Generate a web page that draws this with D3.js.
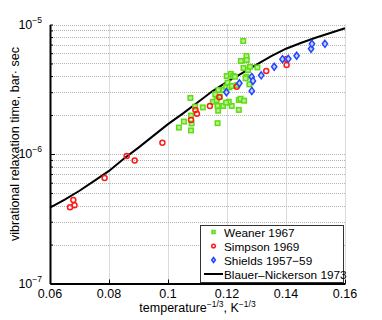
<!DOCTYPE html>
<html>
<head>
<meta charset="utf-8">
<script src="https://cdn.jsdelivr.net/npm/d3@7"></script>
<style>
  body { margin: 0; background: #fff; }
  text { font-family: "Liberation Sans", Arial, sans-serif; }
</style>
</head>
<body>
<script>
// Weaner 1967 (green squares)
var weanerX = [0.1037, 0.1054, 0.1076, 0.1078, 0.1080, 0.1078, 0.1092, 0.1118, 0.1152, 0.1168,
  0.1168, 0.1170, 0.1160, 0.1187, 0.1187, 0.1197, 0.1199, 0.1202, 0.1208, 0.1213,
  0.1221, 0.1216, 0.1206, 0.1216, 0.1240, 0.1246, 0.1240, 0.1258, 0.1247, 0.1255,
  0.1256, 0.1266, 0.1266, 0.1267, 0.1271, 0.1278, 0.1276, 0.1303, 0.1263, 0.1235,
  0.1197, 0.1176, 0.1165, 0.1227, 0.1171];
var weanerY = [1.60e-6, 1.78e-6, 2.71e-6, 1.98e-6, 1.72e-6, 1.52e-6, 2.32e-6, 2.29e-6, 2.53e-6, 1.73e-6,
  2.35e-6, 2.16e-6, 2.89e-6, 2.35e-6, 3.12e-6, 3.31e-6, 4.00e-6, 3.55e-6, 3.27e-6, 4.15e-6,
  4.00e-6, 2.35e-6, 2.53e-6, 3.35e-6, 2.61e-6, 2.67e-6, 2.19e-6, 2.58e-6, 5.23e-6, 7.46e-6,
  4.61e-6, 3.95e-6, 5.71e-6, 5.32e-6, 4.45e-6, 4.72e-6, 3.45e-6, 4.66e-6, 3.84e-6, 3.41e-6,
  2.49e-6, 2.77e-6, 2.61e-6, 3.95e-6, 3.12e-6];

// Simpson 1969 (red circles)
var simpsonX = [0.0668, 0.0679, 0.0683, 0.0785, 0.0860, 0.0887, 0.0981, 0.1078, 0.1093, 0.1098,
  0.1142, 0.1174, 0.1233, 0.1333, 0.1402, 0.1402];
var simpsonY = [3.88e-7, 4.41e-7, 4.02e-7, 6.53e-7, 9.65e-7, 8.91e-7, 1.22e-6, 1.83e-6, 2.19e-6, 2.05e-6,
  2.35e-6, 2.74e-6, 3.31e-6, 4.38e-6, 5.42e-6, 4.87e-6];

// Shields 1957-59 (blue diamonds)
var shieldsX = [0.1198, 0.1242, 0.1284, 0.1288, 0.1284, 0.1316, 0.1360, 0.1388, 0.1408, 0.1436,
  0.1485, 0.1488, 0.1532];
var shieldsY = [3.00e-6, 3.52e-6, 3.94e-6, 3.67e-6, 3.07e-6, 4.05e-6, 4.72e-6, 5.40e-6, 5.43e-6, 5.74e-6,
  6.50e-6, 7.09e-6, 7.09e-6];

// Blauer-Nickerson 1973 (black line)
var bnX = [0.060, 0.065, 0.070, 0.075, 0.080, 0.085, 0.090, 0.095, 0.100, 0.105, 0.110,
  0.115, 0.120, 0.125, 0.130, 0.135, 0.140, 0.145, 0.150, 0.155, 0.160];
var bnY = [3.85e-7, 4.45e-7, 5.20e-7, 6.20e-7, 7.40e-7, 9.20e-7, 1.12e-6, 1.38e-6, 1.70e-6, 2.05e-6, 2.50e-6,
  3.05e-6, 3.60e-6, 4.20e-6, 4.90e-6, 5.70e-6, 6.50e-6, 7.20e-6, 7.90e-6, 8.60e-6, 9.35e-6];

var xTicks = [0.06, 0.08, 0.1, 0.12, 0.14, 0.16];
var xTickLabels = ["0.06", "0.08", "0.1", "0.12", "0.14", "0.16"];
var yTicks = [1e-7, 1e-6, 1e-5];
var yTickExp = ["\u22127", "\u22126", "\u22125"];

var legendNames = ["Weaner 1967", "Simpson 1969", "Shields 1957\u221259", "Blauer\u2013Nickerson 1973"];

var W = 382, H = 320;
var pl = 50, pr = 345, pt = 24.5, pb = 283.5;

var svg = d3.select("body").append("svg")
  .attr("width", W).attr("height", H);

var x = d3.scaleLinear().domain([0.06, 0.16]).range([pl, pr]);
var y = d3.scaleLog().domain([1e-7, 1e-5]).range([pb, pt]);

// grid
var grid = svg.append("g").attr("class", "grid")
  .style("stroke", "#b4b4b4").style("stroke-width", 1).style("stroke-dasharray", "1,1");

xTicks.slice(1).forEach(function(t) {
  grid.append("line").attr("x1", Math.round(x(t)) + 0.5).attr("x2", Math.round(x(t)) + 0.5)
    .attr("y1", pt).attr("y2", pb);
});
var yMinor = [];
[1e-7, 1e-6].forEach(function(d) {
  for (var k = 2; k <= 10; k++) yMinor.push(d * k);
});
yMinor.forEach(function(t) {
  grid.append("line").attr("x1", pl).attr("x2", pr)
    .attr("y1", Math.round(y(t)) + 0.5).attr("y2", Math.round(y(t)) + 0.5);
});

// axes
var xAxis = d3.axisBottom(x).tickValues(xTicks).tickFormat("").tickSizeInner(-4).tickSizeOuter(0);
var gx = svg.append("g").attr("transform", "translate(0," + pb + ")").call(xAxis);
gx.select(".domain").attr("stroke-width", 2);

var yAxis = d3.axisLeft(y).tickValues(yMinor.concat([1e-7])).tickFormat("").tickSizeInner(-3).tickSizeOuter(0);
var gy = svg.append("g").attr("transform", "translate(" + pl + ",0)").call(yAxis);
gy.select(".domain").attr("stroke-width", 2);
gy.selectAll(".tick line").filter(function(d) { return yTicks.indexOf(d) >= 0; }).attr("x2", 5);

// tick labels
svg.append("g").selectAll("text").data(xTicks).enter().append("text")
  .attr("x", function(d) { return x(d); })
  .attr("y", pb + 14)
  .attr("text-anchor", "middle")
  .style("font-size", "12.5px")
  .text(function(d, i) { return xTickLabels[i]; });

var yl = svg.append("g").selectAll("text").data(yTicks).enter().append("text")
  .attr("x", pl - 8)
  .attr("y", function(d) { return y(d) + 4; })
  .attr("text-anchor", "end")
  .style("font-size", "12.5px");
yl.append("tspan").text("10");
yl.append("tspan").attr("dy", -6).style("font-size", "8.5px").text(function(d, i) { return yTickExp[i]; });

// axis labels
var xl = svg.append("text")
  .attr("x", (pl + pr) / 2)
  .attr("y", 312)
  .attr("text-anchor", "middle")
  .style("font-size", "12.5px");
xl.append("tspan").text("temperature");
xl.append("tspan").attr("dy", -5).style("font-size", "8.5px").text("\u22121/3");
xl.append("tspan").attr("dy", 5).text(", K");
xl.append("tspan").attr("dy", -5).style("font-size", "8.5px").text("\u22121/3");

svg.append("text")
  .attr("transform", "translate(19," + ((pt + pb) / 2 - 10) + ") rotate(-90)")
  .attr("text-anchor", "middle")
  .style("font-size", "12.5px")
  .text("vibrational relaxation time, bar\u00b7 sec");

// curve
var line = d3.line().x(function(d) { return x(d[0]); }).y(function(d) { return y(d[1]); });
svg.append("path")
  .datum(d3.zip(bnX, bnY))
  .attr("d", line)
  .attr("fill", "none")
  .attr("stroke", "#000")
  .attr("stroke-width", 2);

var green = "#5fdc14", red = "#ff1a1a", blue = "#2244ff";

function square(g, cx, cy, s) {
  g.append("rect").attr("x", cx - s / 2).attr("y", cy - s / 2).attr("width", s).attr("height", s)
    .attr("fill", "#b8f090").attr("stroke", green).attr("stroke-width", 1.5);
}
function circle(g, cx, cy, r) {
  g.append("circle").attr("cx", cx).attr("cy", cy).attr("r", r)
    .attr("fill", "none").attr("stroke", red).attr("stroke-width", 1.5);
}
function diamond(g, cx, cy, s) {
  g.append("path").attr("d", "M" + cx + "," + (cy - s) + "L" + (cx + s * 0.75) + "," + cy + "L" + cx + "," + (cy + s) + "L" + (cx - s * 0.75) + "," + cy + "Z")
    .attr("fill", "#c8d0ff").attr("stroke", blue).attr("stroke-width", 1.5);
}

var pts = svg.append("g");
d3.zip(weanerX, weanerY).forEach(function(d) { square(pts, x(d[0]), y(d[1]), 4.5); });
d3.zip(simpsonX, simpsonY).forEach(function(d) { circle(pts, x(d[0]), y(d[1]), 2.5); });
d3.zip(shieldsX, shieldsY).forEach(function(d) { diamond(pts, x(d[0]), y(d[1]), 3.5); });

// legend
var lg = svg.append("g");
lg.append("rect").attr("x", 200.5).attr("y", 225.5).attr("width", 143).attr("height", 57)
  .attr("fill", "#fff").attr("stroke", "#333").attr("stroke-width", 1);
var ly = [232, 246, 260, 274];
square(lg, 213.5, ly[0], 3);
circle(lg, 213.5, ly[1], 1.8);
diamond(lg, 213.5, ly[2], 2.5);
lg.append("line").attr("x1", 204).attr("x2", 223).attr("y1", ly[3]).attr("y2", ly[3])
  .attr("stroke", "#000").attr("stroke-width", 2);
lg.selectAll("text.lab").data(legendNames).enter().append("text")
  .attr("x", 224)
  .attr("y", function(d, i) { return ly[i] + 4.5; })
  .style("font-size", "11.8px")
  .text(function(d) { return d; });
</script>
</body>
</html>
